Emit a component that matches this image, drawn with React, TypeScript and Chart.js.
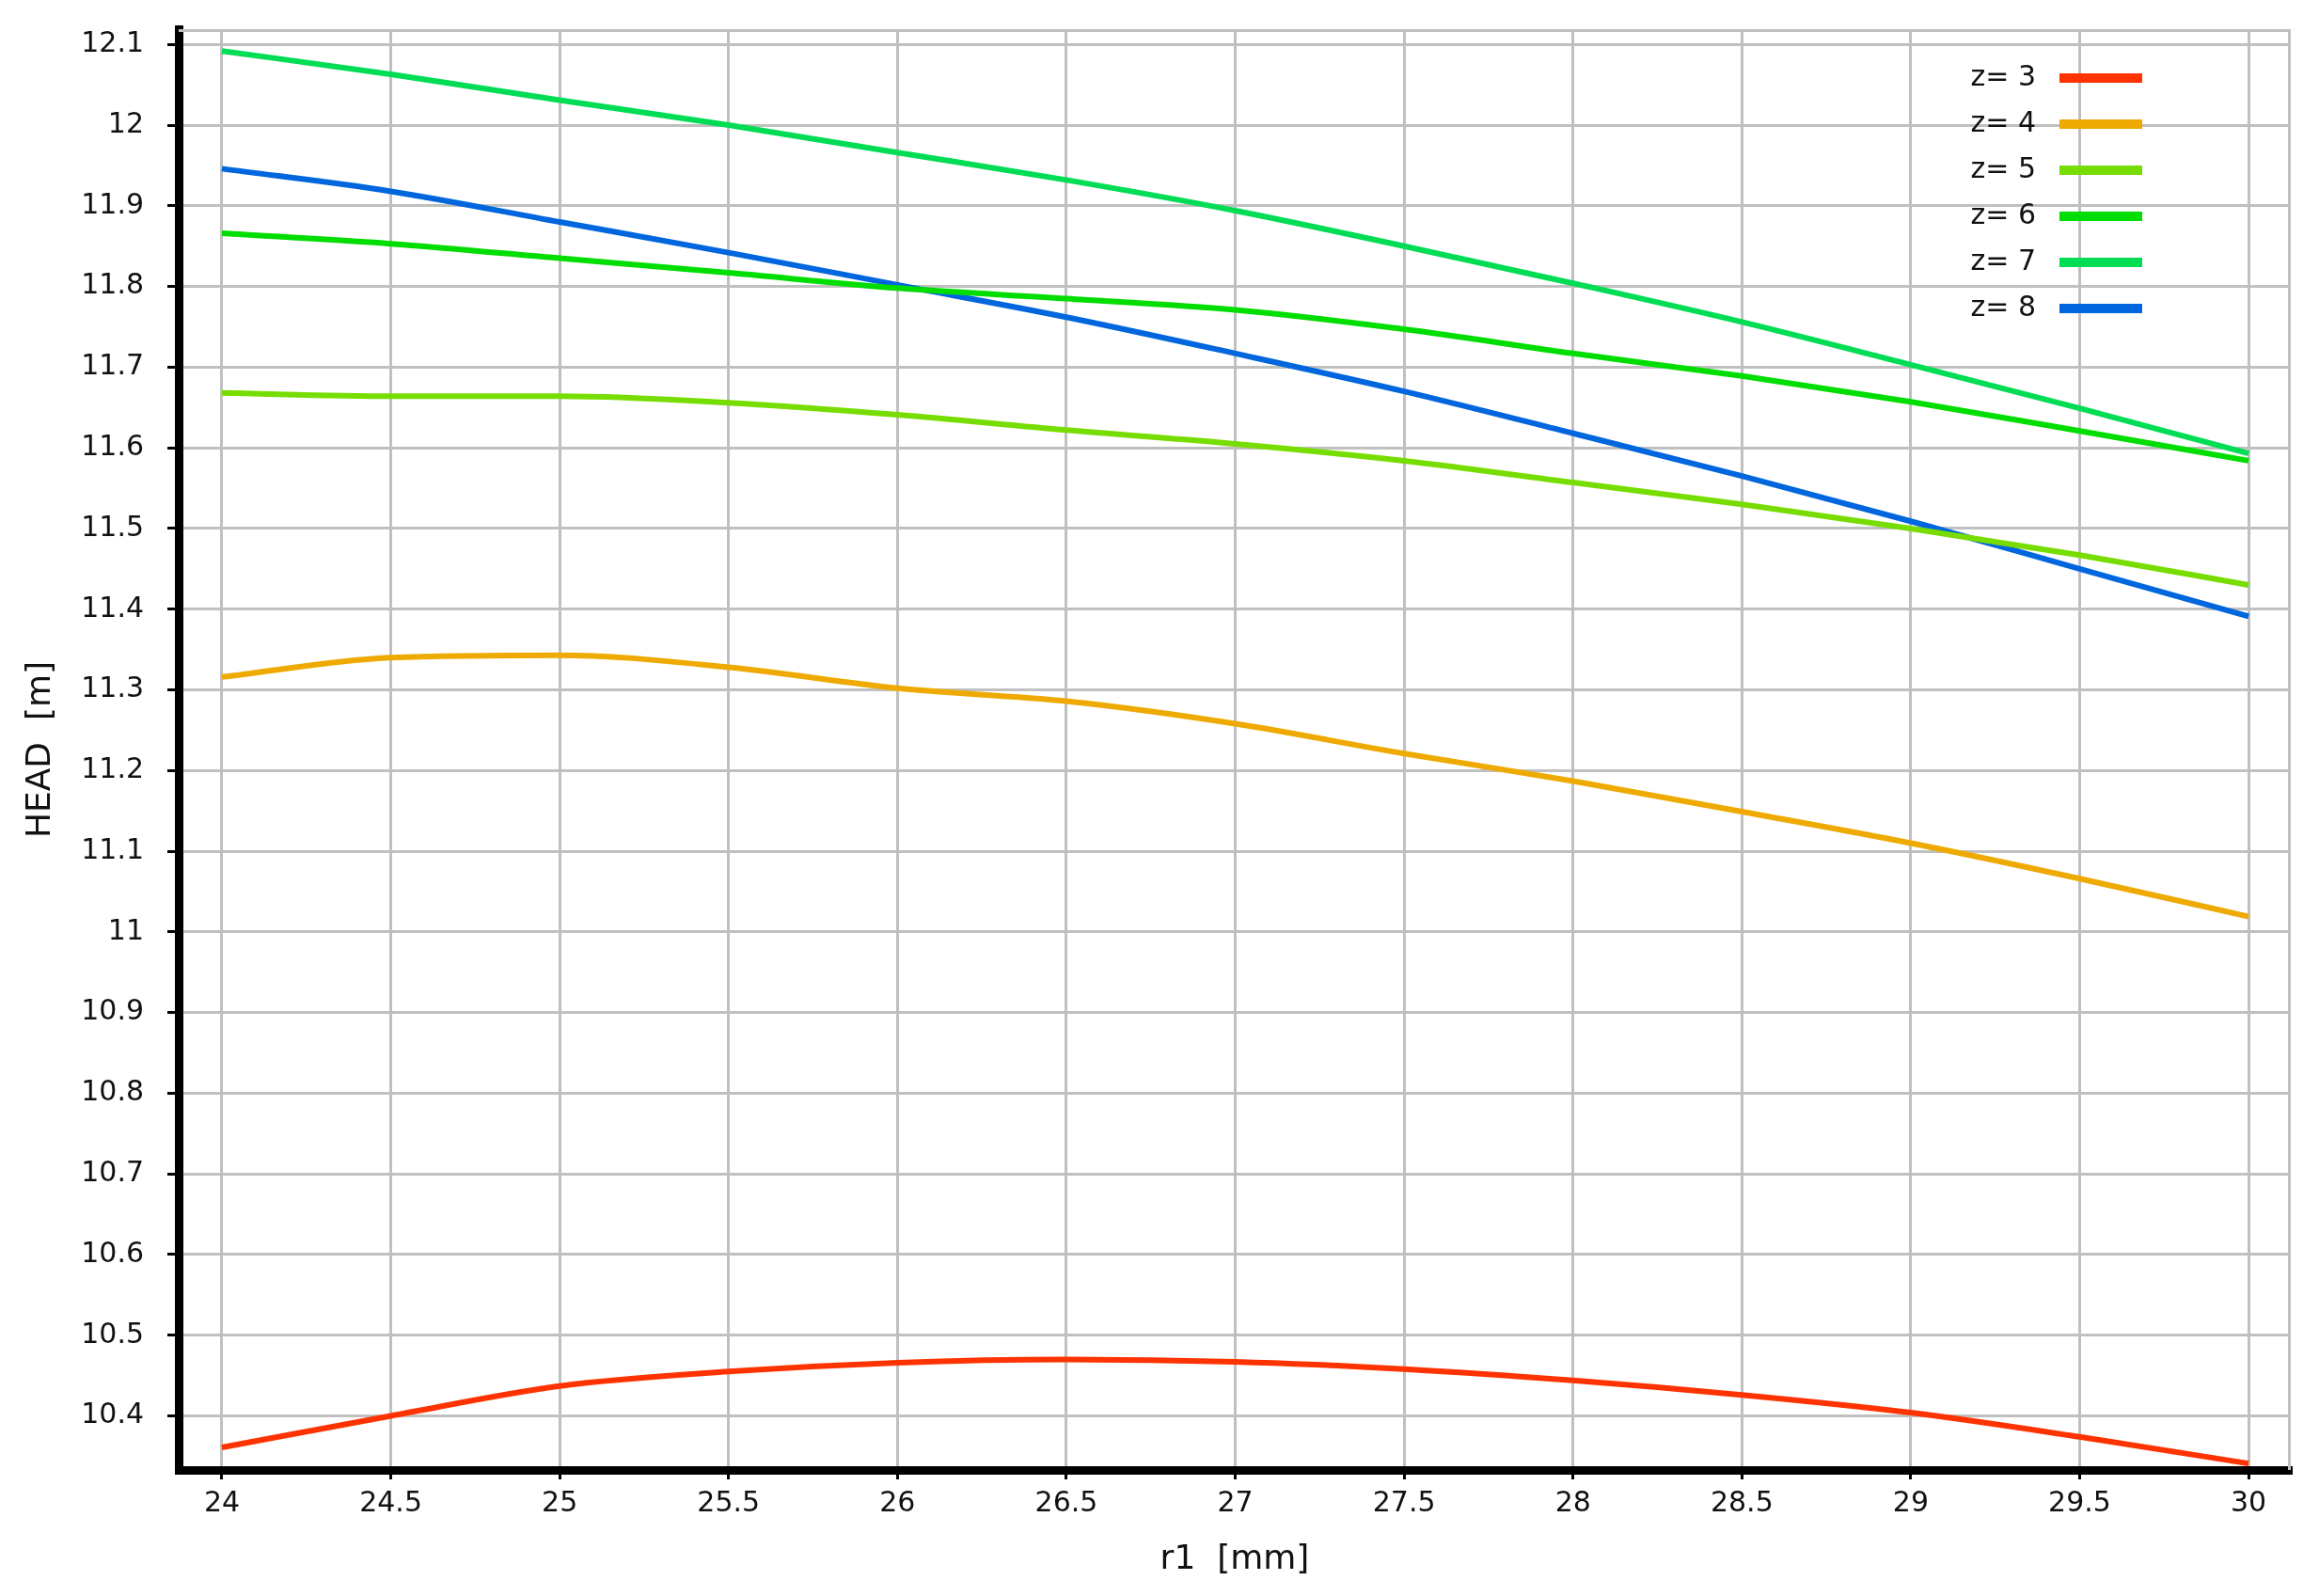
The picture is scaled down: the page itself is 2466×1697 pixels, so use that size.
import React, { useEffect, useRef } from 'react';
import { Chart, registerables } from 'chart.js';

Chart.register(...registerables);

const r1Values = [24, 24.5, 25, 25.5, 26, 26.5, 27, 27.5, 28, 28.5, 29, 29.5, 30];

const headZ3 = [10.361, 10.400, 10.437, 10.455, 10.466, 10.470, 10.467, 10.458, 10.444, 10.426, 10.404, 10.374, 10.341];
const headZ4 = [11.316, 11.340, 11.343, 11.328, 11.302, 11.286, 11.258, 11.221, 11.187, 11.149, 11.110, 11.066, 11.019];
const headZ5 = [11.668, 11.664, 11.664, 11.656, 11.641, 11.622, 11.605, 11.584, 11.557, 11.530, 11.500, 11.467, 11.430];
const headZ6 = [11.866, 11.853, 11.835, 11.817, 11.798, 11.785, 11.771, 11.747, 11.717, 11.689, 11.657, 11.621, 11.584];
const headZ7 = [12.092, 12.063, 12.031, 12.000, 11.966, 11.932, 11.894, 11.850, 11.804, 11.756, 11.703, 11.649, 11.593];
const headZ8 = [11.946, 11.918, 11.880, 11.842, 11.802, 11.762, 11.717, 11.670, 11.618, 11.565, 11.509, 11.450, 11.391];

const seriesLabels = ['z= 3', 'z= 4', 'z= 5', 'z= 6', 'z= 7', 'z= 8'];
const seriesValues = [headZ3, headZ4, headZ5, headZ6, headZ7, headZ8];
const seriesColors = ['#ff3300', '#eeaa00', '#77dd00', '#00dd00', '#00dd55', '#0066dd'];

const xTickValues = [24, 24.5, 25, 25.5, 26, 26.5, 27, 27.5, 28, 28.5, 29, 29.5, 30];
const yTickValues = [10.4, 10.5, 10.6, 10.7, 10.8, 10.9, 11, 11.1, 11.2, 11.3, 11.4, 11.5, 11.6, 11.7, 11.8, 11.9, 12, 12.1];

const xTitle = 'r1  [mm]';
const yTitle = 'HEAD  [m]';

const FONT = "'DejaVu Sans', sans-serif";

const frameAndLegend = {
  id: 'frameAndLegend',
  beforeDatasetsDraw(chart: any) {
    const { ctx, chartArea } = chart;
    ctx.save();
    ctx.strokeStyle = '#c0c0c0';
    ctx.lineWidth = 3;
    ctx.beginPath();
    ctx.moveTo(chartArea.left, chartArea.top + 1.5);
    ctx.lineTo(chartArea.right - 1.5, chartArea.top + 1.5);
    ctx.lineTo(chartArea.right - 1.5, chartArea.bottom);
    ctx.stroke();
    ctx.restore();
  },
  afterDatasetsDraw(chart: any) {
    const { ctx, chartArea } = chart;
    ctx.save();
    ctx.font = `30px ${FONT}`;
    ctx.textAlign = 'right';
    ctx.textBaseline = 'middle';
    chart.data.datasets.forEach((ds: any, i: number) => {
      const y = chartArea.top + 52 + i * 49;
      ctx.fillStyle = '#111';
      ctx.fillText(ds.label, chartArea.right - 271, y);
      ctx.fillStyle = ds.borderColor;
      ctx.fillRect(chartArea.right - 246, y - 5, 88, 10);
    });
    ctx.restore();
  },
};

export default function App() {
  const canvasRef = useRef<HTMLCanvasElement | null>(null);

  useEffect(() => {
    if (!canvasRef.current) return;
    const datasets = seriesLabels.map((label, i) => ({
      label,
      data: r1Values.map((x, j) => ({ x, y: seriesValues[i][j] })),
      borderColor: seriesColors[i],
      backgroundColor: seriesColors[i],
      borderWidth: 6,
      pointRadius: 0,
      cubicInterpolationMode: 'monotone' as const,
      fill: false,
    }));

    const chart = new Chart(canvasRef.current, {
      type: 'line',
      data: { datasets },
      plugins: [frameAndLegend],
      options: {
        animation: false,
        responsive: false,
        devicePixelRatio: 1,
        layout: { padding: { top: 31, right: 30, left: 0, bottom: 0 } },
        plugins: {
          legend: { display: false },
          tooltip: { enabled: false },
        },
        scales: {
          x: {
            type: 'linear',
            min: 23.872,
            max: 30.125,
            afterFit: (s: any) => { s.height = 134; s.paddingLeft = 0; s.paddingRight = 0; },
            afterBuildTicks: (s: any) => { s.ticks = xTickValues.map((v) => ({ value: v })); },
            ticks: {
              callback: (v: any) => String(v),
              font: { family: FONT, size: 30 },
              color: '#111',
              padding: 8,
              maxRotation: 0,
              autoSkip: false,
            },
            grid: {
              color: '#c0c0c0',
              lineWidth: 3,
              tickColor: '#000',
              tickWidth: 3,
              tickLength: 10,
            },
            border: { display: true, color: '#000', width: 9 },
            title: {
              display: true,
              text: xTitle,
              font: { family: FONT, size: 36 },
              color: '#111',
              padding: { top: 22, bottom: 17 },
            },
          },
          y: {
            type: 'linear',
            min: 10.333,
            max: 12.119,
            afterFit: (s: any) => { s.width = 190; s.paddingTop = 0; s.paddingBottom = 0; },
            afterBuildTicks: (s: any) => { s.ticks = yTickValues.map((v) => ({ value: v })); },
            ticks: {
              callback: (v: any) => String(v),
              font: { family: FONT, size: 30 },
              color: '#111',
              padding: 25,
              autoSkip: false,
            },
            grid: {
              color: '#c0c0c0',
              lineWidth: 3,
              tickColor: '#000',
              tickWidth: 3,
              tickLength: 12,
            },
            border: { display: true, color: '#000', width: 9 },
            title: {
              display: true,
              text: yTitle,
              font: { family: FONT, size: 36 },
              color: '#111',
              padding: { top: 22, bottom: 17 },
            },
          },
        },
      },
    });
    return () => chart.destroy();
  }, []);

  return (
    <div style={{ position: 'fixed', left: 0, top: 0, width: 2466, height: 1697, background: '#fff' }}>
      <canvas ref={canvasRef} width={2466} height={1697} style={{ display: 'block', width: 2466, height: 1697 }} />
    </div>
  );
}
